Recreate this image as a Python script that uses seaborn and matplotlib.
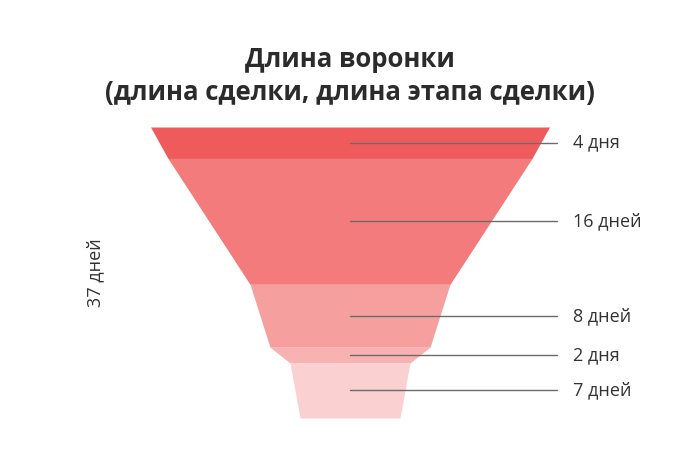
import numpy as np
import matplotlib
matplotlib.use("Agg")
import matplotlib.pyplot as plt
import seaborn as sns

# stage durations (days) and their captions
days = [4, 16, 8, 2, 7]
day_labels = ["4 дня", "16 дней", "8 дней", "2 дня", "7 дней"]
total_label = "37 дней"
title = "Длина воронки\n(длина сделки, длина этапа сделки)"

# funnel shape: half-width at each stage boundary (top to bottom)
half_widths = [199.5, 182, 100, 80, 60, 50]
colors = ["#EF5B5D", "#F37B7B", "#F5A09F", "#F8B2B2", "#FBD0D0"]

sns.set_theme(style="white")
plt.rcParams["font.family"] = ["Open Sans", "DejaVu Sans"]

fig = plt.figure(figsize=(7, 4.5), dpi=100)
ax = fig.add_axes([0, 32 / 450, 1, 291 / 450])
ax.set_xlim(-350, 350)
total = sum(days)
ax.set_ylim(total, 0)
ax.axis("off")

edges = np.concatenate([[0], np.cumsum(days)])
for i, d in enumerate(days):
    y = [edges[i], edges[i + 1]]
    w = [half_widths[i], half_widths[i + 1]]
    ax.fill_betweenx(y, [-w[0], -w[1]], w, color=colors[i], lw=0)
    mid = (edges[i] + edges[i + 1]) / 2
    ax.plot([0, 207], [mid, mid], color="#6b6b6b", lw=1)
    ax.text(223, mid, day_labels[i], ha="left", va="center",
            fontsize=13, color="#333333")

ax.text(-255, total / 2, total_label, rotation=90, ha="center", va="center",
        fontsize=13, color="#333333")

fig.text(0.5, 1 - 76 / 450, title, ha="center", va="center", fontsize=18.5,
         fontweight="bold", color="#2b2b2b", linespacing=1.3)

fig.savefig("out.png", dpi=100)
